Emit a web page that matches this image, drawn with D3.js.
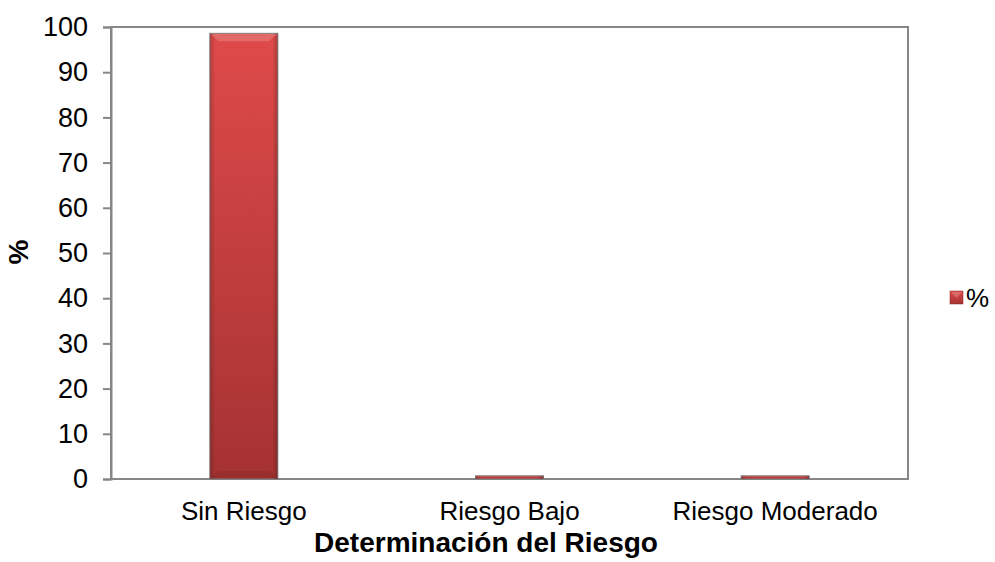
<!DOCTYPE html>
<html><head><meta charset="utf-8">
<script src="https://cdn.jsdelivr.net/npm/d3@7"></script>
<style>body{margin:0;background:#fff}svg{display:block}text{font-family:"Liberation Sans",Arial,sans-serif;fill:#000}</style>
</head><body><svg id="c" width="995" height="562"></svg>
<script>
const categories = ["Sin Riesgo", "Riesgo Bajo", "Riesgo Moderado"];
const values = [98.6, 0.7, 0.7];
const yTicks = [0,10,20,30,40,50,60,70,80,90,100];
const seriesName = "%";
const xTitle = "Determinación del Riesgo";
const yTitle = "%";

const svg = d3.select("#c");
const L=111, R=908, T=27, B=479;
const x = d3.scaleBand().domain(categories).range([L,R]).paddingInner(0.744).paddingOuter(0.372);
const y = d3.scaleLinear().domain([0,100]).range([B,T]);

const defs = svg.append("defs");
const g1 = defs.append("linearGradient").attr("id","bg").attr("x1",0).attr("y1",0).attr("x2",0).attr("y2",1);
g1.append("stop").attr("offset","0%").attr("stop-color","#df4a4a");
g1.append("stop").attr("offset","100%").attr("stop-color","#a53232");
const g2 = defs.append("linearGradient").attr("id","side").attr("x1",0).attr("y1",0).attr("x2",1).attr("y2",0);
g2.append("stop").attr("offset","0%").attr("stop-color","#000").attr("stop-opacity",0.18);
g2.append("stop").attr("offset","8%").attr("stop-color","#000").attr("stop-opacity",0);
g2.append("stop").attr("offset","92%").attr("stop-color","#000").attr("stop-opacity",0);
g2.append("stop").attr("offset","100%").attr("stop-color","#000").attr("stop-opacity",0.22);

// plot border
svg.append("rect").attr("x",L).attr("y",T).attr("width",R-L).attr("height",B-T)
  .attr("fill","none").attr("stroke","#868686").attr("stroke-width",2);

// y axis
const ya = svg.append("g").attr("transform",`translate(${L},0)`)
  .call(d3.axisLeft(y).tickValues(yTicks).tickSize(8).tickPadding(15).tickFormat(d3.format("d")));
ya.select(".domain").attr("stroke","#868686").attr("stroke-width",2);
ya.selectAll(".tick line").attr("stroke","#868686").attr("stroke-width",2);
ya.selectAll("text").style("font-size","27px").attr("fill","#000");

// x axis
const xa = svg.append("g").attr("transform",`translate(0,${B})`)
  .call(d3.axisBottom(x).tickSize(0).tickPadding(23));
xa.select(".domain").remove();
xa.selectAll("text").style("font-size","26px").attr("fill","#000");

// bars
const bars = svg.append("g").selectAll("g").data(categories).join("g");
bars.append("rect").attr("x",d=>x(d)).attr("width",x.bandwidth())
  .attr("y",(d,i)=>y(values[i])).attr("height",(d,i)=>B-y(values[i]))
  .attr("fill","url(#bg)").attr("stroke","#7f7f7f").attr("stroke-width",1);
bars.append("rect").attr("x",d=>x(d)).attr("width",x.bandwidth())
  .attr("y",(d,i)=>y(values[i])).attr("height",(d,i)=>B-y(values[i]))
  .attr("fill","url(#side)");
const tall = bars.filter((d,i)=>B-y(values[i])>20);
tall.append("path")
  .attr("d",(d,i)=>{const x0=x(d),x1=x(d)+x.bandwidth(),y0=y(values[i]);
    return `M${x0+0.5},${y0+0.5}L${x1-0.5},${y0+0.5}L${x1-9},${y0+8}L${x0+9},${y0+8}Z`;})
  .attr("fill","#fff").attr("opacity",0.18);
tall.append("path")
  .attr("d",d=>{const x0=x(d),x1=x(d)+x.bandwidth();
    return `M${x0+0.5},${B-0.5}L${x1-0.5},${B-0.5}L${x1-9},${B-8}L${x0+9},${B-8}Z`;})
  .attr("fill","#000").attr("opacity",0.08);

// axis titles
svg.append("text").attr("x",486).attr("y",552).attr("text-anchor","middle")
  .style("font-size","28px").style("font-weight","bold").text(xTitle);
svg.append("text").attr("transform","translate(28,252) rotate(-90)").attr("text-anchor","middle")
  .style("font-size","28px").style("font-weight","bold").text(yTitle);

// legend
const lg = svg.append("g").attr("transform","translate(950,291)");
lg.append("rect").attr("width",13).attr("height",13).attr("fill","url(#bg)").attr("stroke","#8a2a2a").attr("stroke-width",0.5);
lg.append("path").attr("d","M1,1L12,1L6.5,7Z").attr("fill","#fff").attr("opacity",0.2);
lg.append("text").attr("x",16).attr("y",16).style("font-size","26px").text(seriesName);
</script></body></html>
